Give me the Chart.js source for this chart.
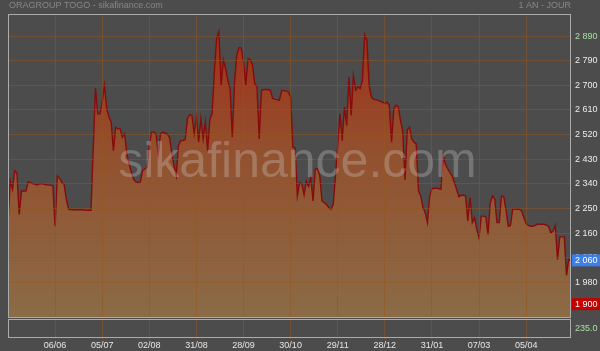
<!DOCTYPE html>
<html lang="fr">
<head>
  <meta charset="UTF-8">
  <title>ORAGROUP TOGO - sikafinance.com</title>
  <script src="https://cdn.jsdelivr.net/npm/chart.js"></script>
  <style>
    html, body { margin: 0; padding: 0; background: #4b4b4b; overflow: hidden; }
    canvas { display: block; }
  </style>
</head>
<body>
  <canvas id="chart" width="600" height="351"></canvas>

  <script>
    // ---------------- Data ---------------- //
    const prices = [
      2198, 2351, 2320, 2388, 2379, 2228, 2314, 2314, 2314, 2347,
      2345, 2341, 2339, 2336, 2340, 2340, 2339, 2336, 2336, 2335,
      2333, 2185, 2369, 2360, 2345, 2339, 2283, 2247, 2246, 2245,
      2245, 2245, 2246, 2245, 2244, 2243, 2243, 2243, 2468, 2690,
      2596, 2596, 2640, 2700, 2615, 2584, 2566, 2461, 2547, 2541,
      2541, 2510, 2523, 2449, 2412, 2382, 2357, 2347, 2345, 2347,
      2388, 2394, 2400, 2480, 2529, 2529, 2523, 2449, 2523, 2529,
      2525, 2523, 2510, 2455, 2406, 2369, 2480, 2498, 2498, 2502,
      2578, 2593, 2590, 2523, 2584, 2492, 2578, 2504, 2566, 2461,
      2578, 2596, 2750, 2872, 2897, 2701, 2793, 2762, 2719, 2688,
      2510, 2713, 2811, 2838, 2836, 2787, 2701, 2796, 2795, 2774,
      2707, 2695, 2504, 2682, 2685, 2685, 2685, 2682, 2652, 2649,
      2648, 2645, 2682, 2681, 2679, 2676, 2658, 2474, 2470, 2296,
      2345, 2340, 2300, 2350, 2330, 2363, 2277, 2394, 2394, 2369,
      2277, 2271, 2265, 2253, 2247, 2265, 2369, 2480, 2596, 2498,
      2621, 2553, 2731, 2590, 2737, 2682, 2695, 2688, 2719, 2885,
      2866, 2701, 2658, 2649, 2648, 2645, 2642, 2639, 2633, 2639,
      2627, 2492, 2615, 2627, 2621, 2572, 2530, 2354, 2538, 2547,
      2504, 2492, 2486, 2314, 2296, 2253, 2235, 2198, 2296, 2323,
      2324, 2324, 2323, 2320, 2443, 2412, 2396, 2382, 2369, 2345,
      2320, 2293, 2298, 2298, 2296, 2204, 2290, 2198, 2216, 2173,
      2143, 2222, 2222, 2219, 2155, 2270, 2296, 2284, 2198, 2198,
      2296, 2293, 2247, 2185, 2188, 2247, 2249, 2247, 2247, 2241,
      2216, 2195, 2188, 2185, 2185, 2188, 2192, 2192, 2192, 2192,
      2189, 2185, 2161, 2167, 2188, 2063, 2146, 2146, 2146, 2005,
      2063, 2060
    ];

    // x ticks: one gridline every 21 sessions
    const dateTicks = [21, 42, 63, 84, 105, 126, 147, 168, 189, 210, 231];
    const dateLabels = ['06/06', '05/07', '02/08', '31/08', '28/09', '30/10', '29/11', '28/12', '31/01', '07/03', '05/04'];

    const priceTicks = [1980, 2070, 2160, 2250, 2340, 2430, 2520, 2610, 2700, 2790, 2880];
    const priceLabels = ['1 980', '2 070', '2 160', '2 250', '2 340', '2 430', '2 520', '2 610', '2 700', '2 790', '2 890'];

    const lastPrice = 2060;
    const lowPrice = 1900;
    const volumeMax = '235.0';

    const FONT = 'Arial, "Liberation Sans", sans-serif';
    const GRID = 'rgba(150, 85, 25, 0.5)';

    // ---------------- Plugins ---------------- //
    const frame = {
      id: 'frame',
      beforeDraw(chart) {
        const c = chart.ctx;
        c.save();
        c.fillStyle = '#4c4c4c';
        c.fillRect(0, 0, chart.width, chart.height);
        c.fillStyle = '#878787';
        c.font = '9px ' + FONT;
        c.textBaseline = 'middle';
        c.textAlign = 'left';
        c.fillText('ORAGROUP TOGO - sikafinance.com', 9, 6);
        c.textAlign = 'right';
        c.fillText('1 AN - JOUR', chart.chartArea.right, 6);
        c.restore();
      },
      afterDraw(chart) {
        const c = chart.ctx;
        const a = chart.chartArea;
        const y = chart.scales.y;
        c.save();

        // watermark
        c.font = '50px ' + FONT;
        c.fillStyle = 'rgba(210, 210, 210, 0.3)';
        c.textAlign = 'center';
        c.textBaseline = 'alphabetic';
        c.fillText('sikafinance.com', (a.left + a.right) / 2 + 8, 177);

        // borders: main panel and volume panel
        c.strokeStyle = '#ababab';
        c.lineWidth = 1;
        c.strokeRect(a.left + 0.5, a.top + 0.5, a.right - a.left - 1, a.bottom - a.top);
        c.strokeRect(a.left + 0.5, a.bottom + 2.5, a.right - a.left - 1, 18);

        c.font = '9px ' + FONT;
        c.textBaseline = 'middle';
        c.textAlign = 'left';
        c.fillStyle = '#a8e0a0';
        c.fillText(volumeMax, a.right + 4, a.bottom + 12);

        // price tags on the right axis
        const tag = (val, bg) => {
          const py = y.getPixelForValue(val);
          c.fillStyle = bg;
          c.fillRect(a.right + 1, py - 6, chart.width - a.right - 1, 12);
          c.fillStyle = '#ffffff';
          c.fillText(val.toLocaleString('fr-FR').replace(/\s/g, ' '), a.right + 4, py + 0.5);
        };
        tag(lastPrice, '#3d7fe6');
        tag(lowPrice, '#c40000');
        c.restore();
      }
    };

    // ---------------- Chart ---------------- //
    const ctx = document.getElementById('chart').getContext('2d');
    new Chart(ctx, {
      type: 'line',
      data: {
        datasets: [{
          data: prices.map((v, i) => ({ x: i, y: v })),
          borderColor: '#870b0b',
          borderWidth: 1.4,
          pointRadius: 0,
          tension: 0,
          fill: 'start',
          backgroundColor(context) {
            const a = context.chart.chartArea;
            if (!a) return '#8c6040';
            const g = context.chart.ctx.createLinearGradient(0, a.top, 0, a.bottom);
            g.addColorStop(0, '#a22a16');
            g.addColorStop(0.45, '#93502e');
            g.addColorStop(1, '#8b6b47');
            return g;
          }
        }]
      },
      options: {
        responsive: false,
        animation: false,
        layout: { padding: { left: 8, top: 14, right: 0, bottom: 0 } },
        plugins: { legend: { display: false }, tooltip: { enabled: false } },
        scales: {
          x: {
            type: 'linear',
            min: 0,
            max: prices.length - 1,
            afterBuildTicks(s) { s.ticks = dateTicks.map(v => ({ value: v })); },
            afterFit(s) { s.height = 34; },
            grid: { color: GRID, z: 1, tickLength: 22, tickColor: GRID },
            border: { display: false },
            ticks: {
              autoSkip: false,
              maxRotation: 0,
              padding: 1,
              color: '#e6e6e6',
              font: { size: 9, family: FONT },
              callback: v => dateLabels[dateTicks.indexOf(v)]
            }
          },
          y: {
            position: 'right',
            min: 1853,
            max: 2961,
            afterBuildTicks(s) { s.ticks = priceTicks.map(v => ({ value: v })); },
            afterFit(s) { s.width = 29; },
            grid: { color: GRID, z: 1, drawTicks: false },
            border: { display: false },
            ticks: {
              padding: 4,
              color: c => (c.tick && c.tick.value === 2880 ? '#a8e0a0' : '#ececec'),
              font: { size: 9, family: FONT },
              callback: v => priceLabels[priceTicks.indexOf(v)]
            }
          }
        }
      },
      plugins: [frame]
    });
  </script>
</body>
</html>
